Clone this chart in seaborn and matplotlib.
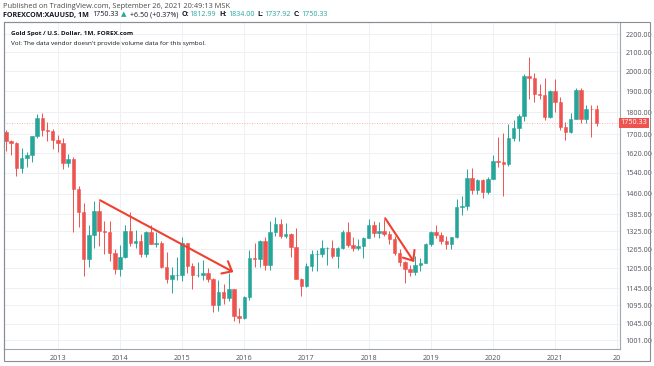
import numpy as np
import pandas as pd
import matplotlib
matplotlib.use("Agg")
from matplotlib import pyplot as plt
from matplotlib.patches import Rectangle
from matplotlib.ticker import NullLocator
import seaborn as sns

# monthly candles, FOREXCOM:XAUUSD, Mar 2012 .. Sep 2021
months = pd.date_range("2012-03-01", "2021-09-01", freq="MS")

opens = [1710, 1669, 1664, 1561, 1598, 1614, 1691, 1772, 1719, 1714,
         1675, 1663, 1578, 1595, 1476, 1393, 1234, 1313, 1396, 1327, 1323, 1253,
         1202, 1240, 1326, 1284, 1292, 1250, 1322, 1282, 1287, 1210, 1171, 1184,
         1184, 1284, 1213, 1183, 1184, 1190, 1172, 1095, 1134, 1115, 1142, 1065,
         1061, 1118, 1238, 1234, 1293, 1215, 1322, 1351, 1309, 1316, 1273, 1173,
         1151, 1211, 1249, 1249, 1268, 1269, 1242, 1268, 1322, 1279, 1270, 1275,
         1303, 1345, 1318, 1325, 1315, 1298, 1252, 1224, 1201, 1192, 1215, 1222,
         1282, 1321, 1313, 1292, 1283, 1305, 1409, 1413, 1520, 1472, 1513, 1464,
         1517, 1589, 1585, 1577, 1686, 1730, 1780, 1975, 1967, 1886, 1879, 1776,
         1898, 1847, 1734, 1708, 1769, 1907, 1770, 1814, 1812.99]
highs = [1718, 1677, 1667, 1641, 1625, 1693, 1790, 1796, 1755, 1723,
         1697, 1684, 1617, 1605, 1487, 1424, 1348, 1434, 1434, 1362, 1361, 1267,
         1280, 1345, 1392, 1331, 1315, 1326, 1345, 1323, 1293, 1255, 1208, 1239,
         1307, 1287, 1220, 1224, 1232, 1205, 1175, 1170, 1157, 1191, 1143, 1088,
         1123, 1263, 1287, 1297, 1304, 1362, 1375, 1367, 1352, 1318, 1337, 1175,
         1220, 1263, 1264, 1296, 1274, 1296, 1271, 1331, 1357, 1306, 1299, 1307,
         1366, 1361, 1356, 1366, 1326, 1309, 1265, 1228, 1214, 1243, 1237, 1284,
         1326, 1346, 1324, 1310, 1306, 1439, 1452, 1555, 1557, 1516, 1516, 1524,
         1611, 1689, 1704, 1747, 1765, 1789, 1984, 2075, 1992, 1933, 1965, 1906,
         1959, 1871, 1755, 1798, 1913, 1916, 1834, 1834, 1834.00]
lows = [1627, 1613, 1527, 1540, 1564, 1583, 1686, 1692, 1672, 1636,
        1625, 1555, 1562, 1321, 1338, 1180, 1208, 1270, 1276, 1251, 1227, 1187,
        1182, 1238, 1277, 1268, 1240, 1240, 1281, 1273, 1206, 1160, 1131, 1170,
        1167, 1191, 1142, 1178, 1170, 1162, 1077, 1080, 1098, 1108, 1052, 1046,
        1058, 1111, 1208, 1208, 1200, 1199, 1310, 1301, 1302, 1241, 1171, 1123,
        1147, 1196, 1195, 1241, 1214, 1237, 1205, 1266, 1271, 1260, 1264, 1236,
        1302, 1307, 1303, 1310, 1282, 1246, 1211, 1160, 1180, 1183, 1196, 1221,
        1275, 1302, 1281, 1266, 1266, 1301, 1382, 1400, 1459, 1459, 1445, 1459,
        1517, 1563, 1451, 1568, 1670, 1671, 1757, 1863, 1849, 1860, 1764, 1775,
        1802, 1717, 1677, 1705, 1766, 1750, 1751, 1687, 1737.92]
closes = [1669, 1664, 1561, 1598, 1614, 1691, 1772, 1719, 1714, 1675,
          1663, 1578, 1595, 1476, 1393, 1234, 1313, 1396, 1327, 1323, 1253, 1202,
          1240, 1326, 1284, 1292, 1250, 1322, 1282, 1287, 1210, 1171, 1184, 1184,
          1284, 1213, 1183, 1184, 1190, 1172, 1095, 1134, 1115, 1142, 1065, 1061,
          1118, 1238, 1234, 1293, 1215, 1322, 1351, 1309, 1316, 1273, 1173, 1151,
          1211, 1249, 1249, 1268, 1269, 1242, 1268, 1322, 1279, 1270, 1275, 1303,
          1345, 1318, 1325, 1315, 1298, 1252, 1224, 1201, 1192, 1215, 1222, 1282,
          1321, 1313, 1292, 1283, 1305, 1409, 1413, 1520, 1472, 1513, 1464, 1517,
          1589, 1585, 1577, 1686, 1730, 1780, 1975, 1967, 1886, 1879, 1776, 1898,
          1847, 1734, 1708, 1769, 1907, 1770, 1814, 1813, 1750.33]

price_ticks = [1001, 1045, 1095, 1145, 1205, 1265, 1325, 1385, 1460, 1540,
               1620, 1700, 1800, 1900, 2000, 2100, 2200]
year_ticks = pd.date_range("2013-01-01", "2022-01-01", freq="YS")
year_labels = ["2013", "2014", "2015", "2016", "2017", "2018", "2019", "2020", "2021", "20"]
last_price = 1750.33

# hand-drawn trend arrows: (month index, price) start -> end
arrow_1 = [(18.15, 1435), (43.9, 1193)]
arrow_2 = [(73.2, 1370), (78.8, 1224)]

UP = "#26a69a"
DOWN = "#ef5350"
GRID = "#eef0f4"
TXT = "#50535e"

sns.set_style("white")
plt.rcParams["font.family"] = ["Open Sans", "DejaVu Sans"]

W, H = 654, 366
fig = plt.figure(figsize=(W / 100, H / 100), dpi=100)


def fx(x):
    return x / W


def fy(y):
    return 1 - y / H


ax = fig.add_axes([fx(4), fy(349), fx(620) - fx(4), fy(22) - fy(349)])

df = pd.DataFrame({"open": opens, "high": highs, "low": lows, "close": closes}, index=months)
df["pos"] = np.arange(len(df))
colors = np.where(df["close"] >= df["open"], UP, DOWN)
body_lo = df[["open", "close"]].min(axis=1)
body_hi = df[["open", "close"]].max(axis=1)

ax.vlines(df["pos"], df["low"], df["high"], colors=colors, lw=0.7, zorder=2)
ax.bar(df["pos"], body_hi - body_lo, bottom=body_lo, width=0.68, color=colors,
       edgecolor=colors, linewidth=0.4, zorder=3)

ax.set_yscale("log")
ax.set_ylim(979, 2269)
ax.set_xlim(-0.39, 118.53)

# grid + ticks
year_pos = [(d.year - months[0].year) * 12 + d.month - months[0].month for d in year_ticks]
ax.set_xticks(year_pos)
ax.set_xticklabels(year_labels)
ax.yaxis.tick_right()
ax.set_yticks(price_ticks)
ax.yaxis.set_minor_locator(NullLocator())
ax.set_yticklabels([f"{v:.2f}" for v in price_ticks])
ax.tick_params(axis="y", length=0, pad=4, labelsize=5.2, labelcolor=TXT)
ax.tick_params(axis="x", length=0, pad=4, labelsize=5.2, labelcolor=TXT)
ax.grid(True, color=GRID, lw=0.7, zorder=0)
ax.set_axisbelow(True)
for side in ["left", "top", "right", "bottom"]:
    ax.spines[side].set_color("#a3a6af")
    ax.spines[side].set_linewidth(0.8)
ax.spines["left"].set_color("#8a8d96")

# current price line + label
ax.axhline(last_price, color=DOWN, lw=0.6, ls=(0, (1, 2)), alpha=0.6, zorder=1)
ax.text(1.0225, last_price, f"{last_price:.2f}", transform=ax.get_yaxis_transform(),
        ha="center", va="center", fontsize=5.2, color="white", clip_on=False,
        bbox=dict(boxstyle="square,pad=0.25", fc=DOWN, ec="none"))

# trend arrows
for (x0, y0), (x1, y1) in [arrow_1, arrow_2]:
    ax.annotate("", xy=(x1, y1), xytext=(x0, y0),
                arrowprops=dict(arrowstyle="->,head_length=0.6,head_width=0.5",
                                color="#f0402f", lw=1.5, shrinkA=0, shrinkB=0))

# outer chart frame
fig.patches.append(Rectangle((fx(4), fy(361)), fx(650) - fx(4), fy(22) - fy(361),
                             transform=fig.transFigure, fill=False, ec="#8a8d96", lw=0.8))

# header texts
fig.text(fx(3), fy(6), "Published on TradingView.com, September 26, 2021 20:49:13 MSK",
         fontsize=5.3, color="#4a4a4a", va="center")

renderer = fig.canvas.get_renderer()
parts = [("FOREXCOM:XAUUSD, 1M", "#131722", "bold"),
         ("1750.33", "#131722", "normal"),
         ("\u25b2", UP, "normal"),
         ("+6.50 (+0.37%)", "#131722", "normal"),
         ("O:", "#131722", "bold"), ("1812.99", UP, "normal"),
         ("H:", "#131722", "bold"), ("1834.00", UP, "normal"),
         ("L:", "#131722", "bold"), ("1737.92", UP, "normal"),
         ("C:", "#131722", "bold"), ("1750.33", UP, "normal")]
x = 3
for s, c, w in parts:
    t = fig.text(fx(x), fy(15), s, fontsize=5.1, color=c, fontweight=w, va="center")
    bb = t.get_window_extent(renderer=renderer)
    x = bb.x1 + (1 if s.endswith(":") else 3)

fig.text(fx(11), fy(34), "Gold Spot / U.S. Dollar, 1M, FOREX.com",
         fontsize=4.6, color="#131722", fontweight="bold", va="center")
fig.text(fx(11), fy(43), "Vol: The data vendor doesn't provide volume data for this symbol.",
         fontsize=4.6, color="#131722", va="center")

fig.savefig("out.png", dpi=100)
